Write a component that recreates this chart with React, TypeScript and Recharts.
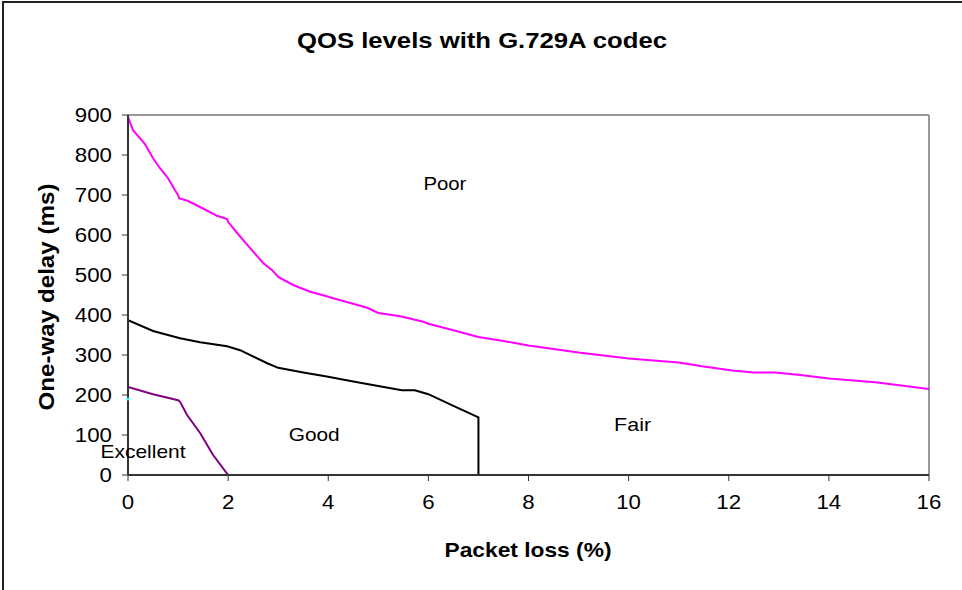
import React from 'react';
import {
  LineChart,
  Line,
  XAxis,
  YAxis,
  ReferenceLine,
  ReferenceDot,
} from 'recharts';

// boundary curves: packet loss (%) -> one-way delay (ms)
const poorLoss = [
  0, 0.1, 0.34, 0.5, 0.64, 0.8, 0.94, 1.0, 1.02, 1.2, 1.44, 1.78, 1.98, 2.0,
  2.18, 2.44, 2.7, 2.88, 3.0, 3.3, 3.64, 3.88, 4.1, 4.78, 5.0, 5.17, 5.44, 5.9,
  6.0, 6.5, 7.0, 7.5, 8, 9, 10, 11, 11.5, 12.07, 12.5, 12.93, 13.43, 14, 14.93,
  16,
];
const poorDelay = [
  895, 862, 827, 792, 767, 742, 712, 700, 692, 685, 670, 648, 640, 633, 605,
  567, 530, 512, 495, 475, 458, 450, 442, 418, 405, 402, 397, 383, 378, 362,
  345, 335, 324, 306, 291, 281, 271, 261, 256, 256, 250, 241, 232, 215,
];

const goodLoss = [
  0, 0.5, 1.04, 1.44, 1.98, 2.24, 2.77, 3.0, 3.5, 3.97, 4.5, 4.97, 5.47, 5.73,
  6.0, 6.5, 7.0, 7.0,
];
const goodDelay = [
  387, 360, 342, 332, 322, 312, 280, 268, 256, 246, 234, 223, 212, 212, 202,
  173, 144, 0,
];

const excellentLoss = [0, 0.5, 1.0, 1.04, 1.18, 1.44, 1.7, 2.0];
const excellentDelay = [220, 202, 187, 183, 150, 105, 50, 0];

const xTicks = [0, 2, 4, 6, 8, 10, 12, 14, 16];
const yTicks = [0, 100, 200, 300, 400, 500, 600, 700, 800, 900];

const regionNames = ['Poor', 'Good', 'Fair', 'Excellent'];
const regionLoss = [6.33, 3.72, 10.08, 0.3];
const regionDelay = [730, 102, 127, 60];
const regionWidths = [43, 51, 37, 85];

const FONT = '"Liberation Sans", Arial, sans-serif';

const toPoints = (xs: number[], ys: number[]) =>
  xs.map((x, i) => ({ x, y: ys[i] }));

const poorData = toPoints(poorLoss, poorDelay);
const goodData = toPoints(goodLoss, goodDelay);
const excellentData = toPoints(excellentLoss, excellentDelay);

function XTick(props: any) {
  const { x, y, payload } = props;
  const label = String(payload.value);
  return (
    <text
      x={x}
      y={y + 26}
      textAnchor="middle"
      fontFamily={FONT}
      fontSize={19.5}
      fill="#000"
      textLength={label.length * 12.4}
      lengthAdjust="spacingAndGlyphs"
    >
      {label}
    </text>
  );
}

function YTick(props: any) {
  const { x, y, payload } = props;
  const label = String(payload.value);
  return (
    <text
      x={x - 8}
      y={y + 7}
      textAnchor="end"
      fontFamily={FONT}
      fontSize={19.5}
      fill="#000"
      textLength={label.length * 12.4}
      lengthAdjust="spacingAndGlyphs"
    >
      {label}
    </text>
  );
}

function RegionLabel({ cx, cy, name, width }: any) {
  return (
    <text
      x={cx}
      y={cy + 7}
      textAnchor="middle"
      fontFamily={FONT}
      fontSize={19}
      fill="#000"
      textLength={width}
      lengthAdjust="spacingAndGlyphs"
    >
      {name}
    </text>
  );
}

export default function App() {
  return (
    <div
      style={{
        position: 'absolute',
        left: 0,
        top: 0,
        width: 962,
        height: 590,
        background: '#fff',
        overflow: 'hidden',
      }}
    >
      <div
        style={{
          position: 'absolute',
          left: 2,
          top: 1,
          width: 970,
          height: 620,
          borderTop: '2px solid #222',
          borderLeft: '2px solid #222',
        }}
      />
      <LineChart
        width={962}
        height={590}
        margin={{ top: 115, right: 33, bottom: 55, left: 0 }}
        style={{ position: 'absolute', left: 0, top: 0 }}
      >
        <XAxis
          type="number"
          dataKey="x"
          domain={[0, 16]}
          ticks={xTicks}
          interval={0}
          height={60}
          tickSize={6}
          axisLine={{ stroke: '#333', strokeWidth: 2 }}
          tickLine={{ stroke: '#333', strokeWidth: 1 }}
          tick={<XTick />}
          allowDataOverflow
        />
        <YAxis
          type="number"
          dataKey="y"
          domain={[0, 900]}
          ticks={yTicks}
          interval={0}
          width={128}
          tickSize={6}
          axisLine={{ stroke: '#333', strokeWidth: 2 }}
          tickLine={{ stroke: '#333', strokeWidth: 1 }}
          tick={<YTick />}
          allowDataOverflow
        />
        <ReferenceLine y={900} stroke="#999" strokeWidth={2} />
        <ReferenceLine x={16} stroke="#999" strokeWidth={2} />
        <Line
          data={poorData}
          dataKey="y"
          type="linear"
          stroke="#ff00ff"
          strokeWidth={2}
          dot={false}
          isAnimationActive={false}
        />
        <Line
          data={goodData}
          dataKey="y"
          type="linear"
          stroke="#000"
          strokeWidth={2}
          dot={false}
          isAnimationActive={false}
        />
        <Line
          data={excellentData}
          dataKey="y"
          type="linear"
          stroke="#800080"
          strokeWidth={2}
          dot={false}
          isAnimationActive={false}
        />
        <ReferenceDot x={0} y={190} r={1.5} fill="#00ffff" stroke="none" />
        {regionNames.map((name, i) => (
          <ReferenceDot
            key={name}
            x={regionLoss[i]}
            y={regionDelay[i]}
            r={0}
            shape={(p: any) => (
              <RegionLabel
                cx={p.cx}
                cy={p.cy}
                name={name}
                width={regionWidths[i]}
              />
            )}
          />
        ))}
      </LineChart>
      <svg
        width={962}
        height={590}
        style={{ position: 'absolute', left: 0, top: 0, pointerEvents: 'none' }}
      >
        <text
          x={482}
          y={48}
          textAnchor="middle"
          fontFamily={FONT}
          fontWeight="bold"
          fontSize={22}
          textLength={370}
          lengthAdjust="spacingAndGlyphs"
        >
          QOS levels with G.729A codec
        </text>
        <text
          x={528}
          y={557}
          textAnchor="middle"
          fontFamily={FONT}
          fontWeight="bold"
          fontSize={21}
          textLength={167}
          lengthAdjust="spacingAndGlyphs"
        >
          Packet loss (%)
        </text>
        <text
          transform="translate(54, 297) rotate(-90)"
          textAnchor="middle"
          fontFamily={FONT}
          fontWeight="bold"
          fontSize={22}
          textLength={227}
          lengthAdjust="spacingAndGlyphs"
        >
          One-way delay (ms)
        </text>
      </svg>
    </div>
  );
}
